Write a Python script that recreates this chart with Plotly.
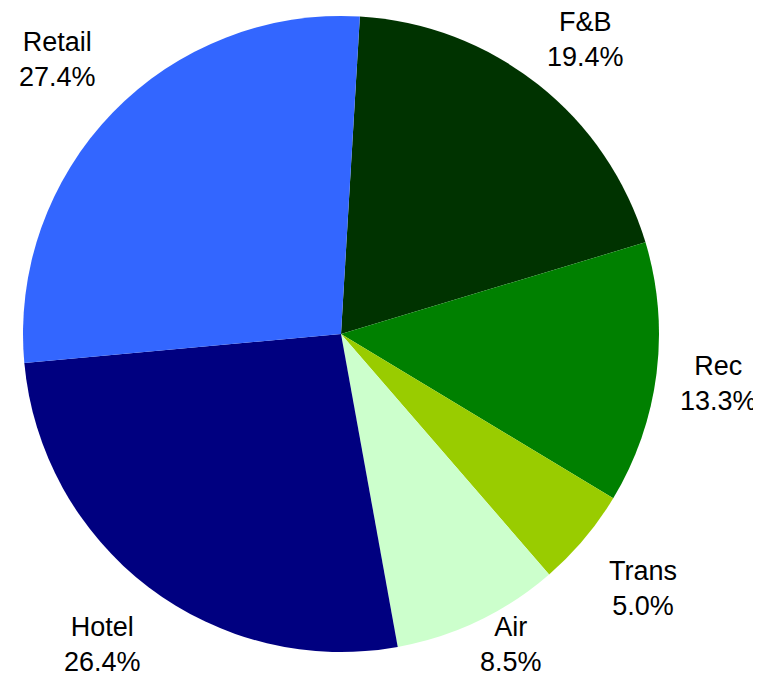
import math
import plotly.graph_objects as go

labels = ["F&B", "Rec", "Trans", "Air", "Hotel", "Retail"]
values = [19.4, 13.3, 5.0, 8.5, 26.4, 27.4]
colors = ["#003300", "#008000", "#99CC00", "#CCFFCC", "#000080", "#3366FF"]

W, H = 761, 677
PAGE = 8                      # default page margin of the html body
ML, MR, MT, MB = 15, 110, 8, 33
PLOT = W - ML - MR            # square plot area for the pie
FONT = 27
start_angle = 3.4             # degrees clockwise from 12 o'clock
label_radius = 1.24           # relative to pie radius


def text_width(s):
    w = {".": 0.278, "%": 0.889, "&": 0.667, "i": 0.222, "l": 0.222,
         "t": 0.278, "r": 0.333, "F": 0.611, "B": 0.667, "R": 0.722,
         "T": 0.611, "H": 0.722, "A": 0.667}
    return sum(w.get(c, 0.556) for c in s) * FONT * 1.04


fig = go.Figure(go.Pie(
    labels=labels,
    values=values,
    sort=False,
    direction="clockwise",
    rotation=start_angle,
    marker=dict(colors=colors, line=dict(width=0)),
    textinfo="none",
    showlegend=False,
    hoverinfo="skip",
))

# outside labels at each slice's mid-angle, kept inside the visible window
total = sum(values)
cx = PAGE + ML + PLOT / 2
cy = PAGE + MT + PLOT / 2
r = PLOT / 2
cum = 0.0
annotations = []
for lab, v in zip(labels, values):
    mid = math.radians(start_angle + (cum + v / 2) / total * 360)
    cum += v
    pct = f"{v / total * 100:.1f}%"
    hw = max(text_width(lab), text_width(pct)) / 2
    hh = 28
    xs = cx + label_radius * r * math.sin(mid)
    ys = cy - label_radius * r * math.cos(mid)
    xs = min(max(xs, 13 + hw), 758 - hw)
    ys = min(max(ys, 12 + hh), 672 - hh)
    annotations.append(dict(
        x=(xs - PAGE - ML) / PLOT, y=1 - (ys - PAGE - MT) / PLOT,
        xref="paper", yref="paper",
        text=f"{lab}<br>{pct}",
        showarrow=False, xanchor="center", yanchor="middle", align="center",
        font=dict(family="Liberation Sans, Arial", size=FONT, color="black"),
    ))

fig.update_layout(
    width=W, height=H,
    margin=dict(l=ML, r=MR, t=MT, b=MB),
    paper_bgcolor="white",
    plot_bgcolor="white",
    annotations=annotations,
)

fig.write_html("out.html")
